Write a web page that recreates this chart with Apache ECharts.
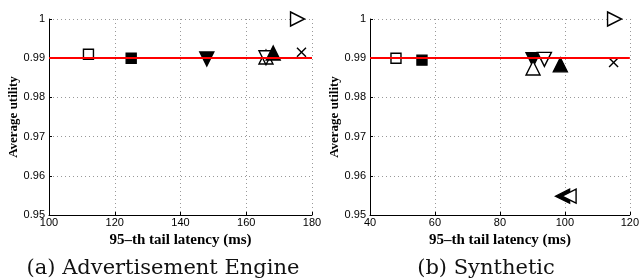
<!DOCTYPE html>
<html>
<head>
<meta charset="utf-8">
<script src="https://cdn.jsdelivr.net/npm/echarts@6/dist/echarts.min.js"></script>
<style>
  html, body { margin: 0; padding: 0; background: #fff; }
  #chart { width: 642px; height: 280px; }
</style>
</head>
<body>
<div id="chart"></div>
<script>
// (a) Advertisement Engine
const adLatency = [112, 125, 148, 166, 166, 168.2, 176.8, 175.6];
const adUtility = [0.991, 0.990, 0.9898, 0.9903, 0.9901, 0.9913, 0.9915, 1.0];
const adMarkers = ['openSquare', 'filledSquare', 'filledDown', 'openUp', 'openDown', 'filledUp', 'cross', 'openRight'];

// (b) Synthetic
const synLatency = [48, 56, 90.2, 90.2, 93.7, 98.6, 115, 115.3, 99.3, 101.3];
const synUtility = [0.990, 0.9895, 0.9896, 0.9875, 0.9897, 0.9883, 0.9889, 1.0, 0.9548, 0.9548];
const synMarkers = ['openSquare', 'filledSquare', 'filledDown', 'openUp', 'openDown', 'filledUp', 'cross', 'openRight', 'filledLeft', 'openLeft'];

const targetUtility = 0.99;
const captions = ['(a) Advertisement Engine', '(b) Synthetic'];
const xRanges = [[100, 180], [40, 120]];

const shapes = {
  Square: 'rect',
  Up: 'triangle',
  Down: 'path://M0,0L10,0L5,10Z',
  Right: 'path://M0,0L10,5L0,10Z',
  Left: 'path://M10,0L0,5L10,10Z'
};
const crossPath = 'path://M0,1L1,0L5,4L9,0L10,1L6,5L10,9L9,10L5,6L1,10L0,9L4,5Z';

function markerItem(x, y, kind) {
  if (kind === 'cross') {
    return { value: [x, y], symbol: crossPath, symbolSize: 10,
      itemStyle: { color: '#000', borderWidth: 0, opacity: 1 } };
  }
  const filled = kind.startsWith('filled');
  const shape = shapes[kind.replace('filled', '').replace('open', '')];
  const size = shape === 'rect' ? 10 : 14;
  return {
    value: [x, y],
    symbol: shape,
    symbolSize: size,
    itemStyle: { color: filled ? '#000' : '#fff', borderColor: '#000', borderWidth: 1.4, opacity: 1 }
  };
}

const chart = echarts.init(document.getElementById('chart'));
const serif = 'Liberation Serif';
const gridLefts = [49, 370];
const captionCenters = [158, 481];

const option = {
  animation: false,
  backgroundColor: '#fff',
  title: captions.map((t, i) => ({
    text: t,
    left: captionCenters[i],
    textAlign: 'center',
    top: 253,
    textStyle: { fontFamily: 'DejaVu Serif', fontWeight: 'normal', fontSize: 21, color: '#111' }
  })),
  grid: gridLefts.map(l => ({ left: l, top: 19, width: 263, height: 196 })),
  xAxis: xRanges.map((r, i) => ({
    type: 'value', gridIndex: i, min: r[0], max: r[1], interval: 20,
    name: '95\u2013th tail latency (ms)', nameLocation: 'middle', nameGap: 12,
    nameTextStyle: { fontFamily: serif, fontWeight: 'bold', fontSize: 15, color: '#000' },
    axisLine: { lineStyle: { color: '#000', width: 1 } },
    axisTick: { inside: true, length: 3, lineStyle: { color: '#000' } },
    axisLabel: { margin: 2, fontFamily: 'Liberation Sans', fontSize: 11, color: '#000' },
    splitLine: { lineStyle: { color: '#999', type: [1, 3] } }
  })),
  yAxis: [0, 1].map(i => ({
    type: 'value', gridIndex: i, min: 0.95, max: 1, interval: 0.01,
    name: 'Average utility', nameLocation: 'middle', nameGap: 29,
    nameTextStyle: { fontFamily: serif, fontWeight: 'bold', fontSize: 13, color: '#000' },
    axisLine: { show: true, lineStyle: { color: '#000', width: 1 } },
    axisTick: { show: true, inside: true, length: 3, lineStyle: { color: '#000' } },
    axisLabel: { margin: 4, fontFamily: 'Liberation Sans', fontSize: 11, color: '#000',
      formatter: v => String(+v.toFixed(2)) },
    splitLine: { lineStyle: { color: '#999', type: [1, 3] } }
  })),
  series: [
    {
      type: 'line', xAxisIndex: 0, yAxisIndex: 0, data: [], z: 1,
      markLine: { silent: true, symbol: 'none', label: { show: false },
        lineStyle: { color: '#f00', width: 2, type: 'solid' },
        data: [{ yAxis: targetUtility }] }
    },
    {
      type: 'line', xAxisIndex: 1, yAxisIndex: 1, data: [], z: 1,
      markLine: { silent: true, symbol: 'none', label: { show: false },
        lineStyle: { color: '#f00', width: 2, type: 'solid' },
        data: [{ yAxis: targetUtility }] }
    },
    {
      type: 'scatter', xAxisIndex: 0, yAxisIndex: 0, z: 3,
      data: adLatency.map((x, k) => markerItem(x, adUtility[k], adMarkers[k]))
    },
    {
      type: 'scatter', xAxisIndex: 1, yAxisIndex: 1, z: 3,
      data: synLatency.map((x, k) => markerItem(x, synUtility[k], synMarkers[k]))
    }
  ]
};
chart.setOption(option);
</script>
</body>
</html>
